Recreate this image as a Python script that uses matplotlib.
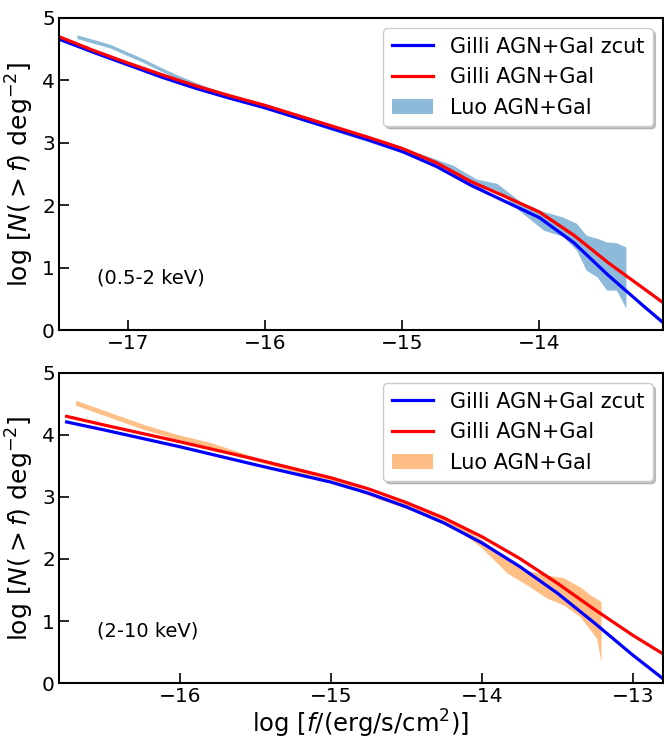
import numpy as np
from matplotlib import pyplot as plt

# soft band (0.5-2 keV)
x_soft = [-17.5, -17.25, -17.0, -16.75, -16.5, -16.25, -16.0, -15.75, -15.5, -15.25, -15.0,
          -14.75, -14.5, -14.25, -14.0, -13.75, -13.5, -13.25, -13.1]
zcut_soft = [4.66, 4.45, 4.25, 4.05, 3.87, 3.71, 3.56, 3.39, 3.22, 3.05, 2.86,
             2.62, 2.32, 2.06, 1.80, 1.40, 0.88, 0.40, 0.12]
gilli_soft = [4.70, 4.48, 4.28, 4.09, 3.91, 3.75, 3.60, 3.43, 3.26, 3.09, 2.91,
              2.68, 2.38, 2.14, 1.89, 1.52, 1.08, 0.68, 0.44]

luo_x_soft = [-17.37, -17.13, -16.89, -16.76, -16.64, -16.52, -16.4, -16.0, -15.5, -15.0, -14.87,
              -14.63, -14.46, -14.31, -14.14, -13.97, -13.83, -13.73, -13.66, -13.58, -13.51,
              -13.44, -13.37]
luo_hi_soft = [4.73, 4.58, 4.35, 4.21, 4.09, 3.98, 3.88, 3.59, 3.23, 2.90, 2.83,
               2.64, 2.42, 2.35, 2.06, 1.90, 1.81, 1.71, 1.52, 1.47, 1.41,
               1.40, 1.33]
luo_lo_soft = [4.67, 4.52, 4.29, 4.15, 4.03, 3.92, 3.83, 3.55, 3.19, 2.84, 2.75,
               2.51, 2.27, 2.24, 1.90, 1.60, 1.50, 1.28, 0.96, 0.85, 0.64,
               0.64, 0.35]

# hard band (2-10 keV)
x_hard = [-16.75, -16.5, -16.0, -15.5, -15.0, -14.75, -14.5, -14.25, -14.0, -13.75, -13.5,
          -13.25, -13.0, -12.8]
zcut_hard = [4.21, 4.08, 3.81, 3.52, 3.24, 3.06, 2.84, 2.58, 2.26, 1.88, 1.45,
             0.96, 0.45, 0.07]
gilli_hard = [4.30, 4.16, 3.89, 3.61, 3.31, 3.13, 2.91, 2.66, 2.36, 2.01, 1.61,
              1.18, 0.77, 0.47]

luo_x_hard = [-16.69, -16.46, -16.24, -16.02, -15.8, -15.5, -15.0, -14.7, -14.41, -14.19, -14.01,
              -13.83, -13.70, -13.57, -13.46, -13.35, -13.28, -13.24, -13.21]
luo_hi_hard = [4.56, 4.36, 4.17, 4.01, 3.88, 3.64, 3.31, 3.05, 2.82, 2.60, 2.33,
               2.01, 1.82, 1.74, 1.70, 1.55, 1.42, 1.36, 1.31]
luo_lo_hard = [4.48, 4.28, 4.09, 3.93, 3.80, 3.58, 3.25, 2.98, 2.74, 2.52, 2.20,
               1.77, 1.58, 1.37, 1.26, 1.07, 0.85, 0.72, 0.33]

ylab = r'$\log\,[N(>f)\ \mathrm{deg}^{-2}]$'
xlab = r'$\log\,[f/(\mathrm{erg/s/cm}^2)]$'

fig = plt.figure(figsize=(6.64, 7.4), dpi=100)
ax1 = fig.add_axes([0.089, 0.554, 0.9095, 0.4217])
ax2 = fig.add_axes([0.089, 0.077, 0.9095, 0.419])

panels = [
    (ax1, x_soft, zcut_soft, gilli_soft, luo_x_soft, luo_lo_soft, luo_hi_soft, 'C0', '(0.5-2 keV)', (-17.5, -13.1)),
    (ax2, x_hard, zcut_hard, gilli_hard, luo_x_hard, luo_lo_hard, luo_hi_hard, 'C1', '(2-10 keV)', (-16.8, -12.8)),
]

for ax, x, zc, gi, lx, llo, lhi, col, lab, xl in panels:
    ax.fill_between(lx, llo, lhi, color=col, alpha=0.5, lw=0, label='Luo AGN+Gal')
    ax.plot(x, zc, color='blue', lw=2.3, label='Gilli AGN+Gal zcut')
    ax.plot(x, gi, color='red', lw=2.3, label='Gilli AGN+Gal')
    ax.set_xlim(xl)
    ax.set_ylim(0, 5)
    ax.set_xticks(np.arange(np.ceil(xl[0]), xl[1], 1.0))
    ax.set_yticks([0, 1, 2, 3, 4, 5])
    ax.tick_params(direction='in', length=7, width=1.2, labelsize=14.5, pad=3)
    for s in ax.spines.values():
        s.set_linewidth(1.5)
    ax.set_ylabel(ylab, fontsize=18)
    ax.text(0.063, 0.15, lab, transform=ax.transAxes, fontsize=14)
    h, l = ax.get_legend_handles_labels()
    ax.legend([h[1], h[2], h[0]], [l[1], l[2], l[0]], loc='upper right', fontsize=15,
              shadow={'color': '0.55', 'alpha': 0.5})

ax2.set_xlabel(xlab, fontsize=17.5, labelpad=1)

fig.savefig('out.png', dpi=100)
